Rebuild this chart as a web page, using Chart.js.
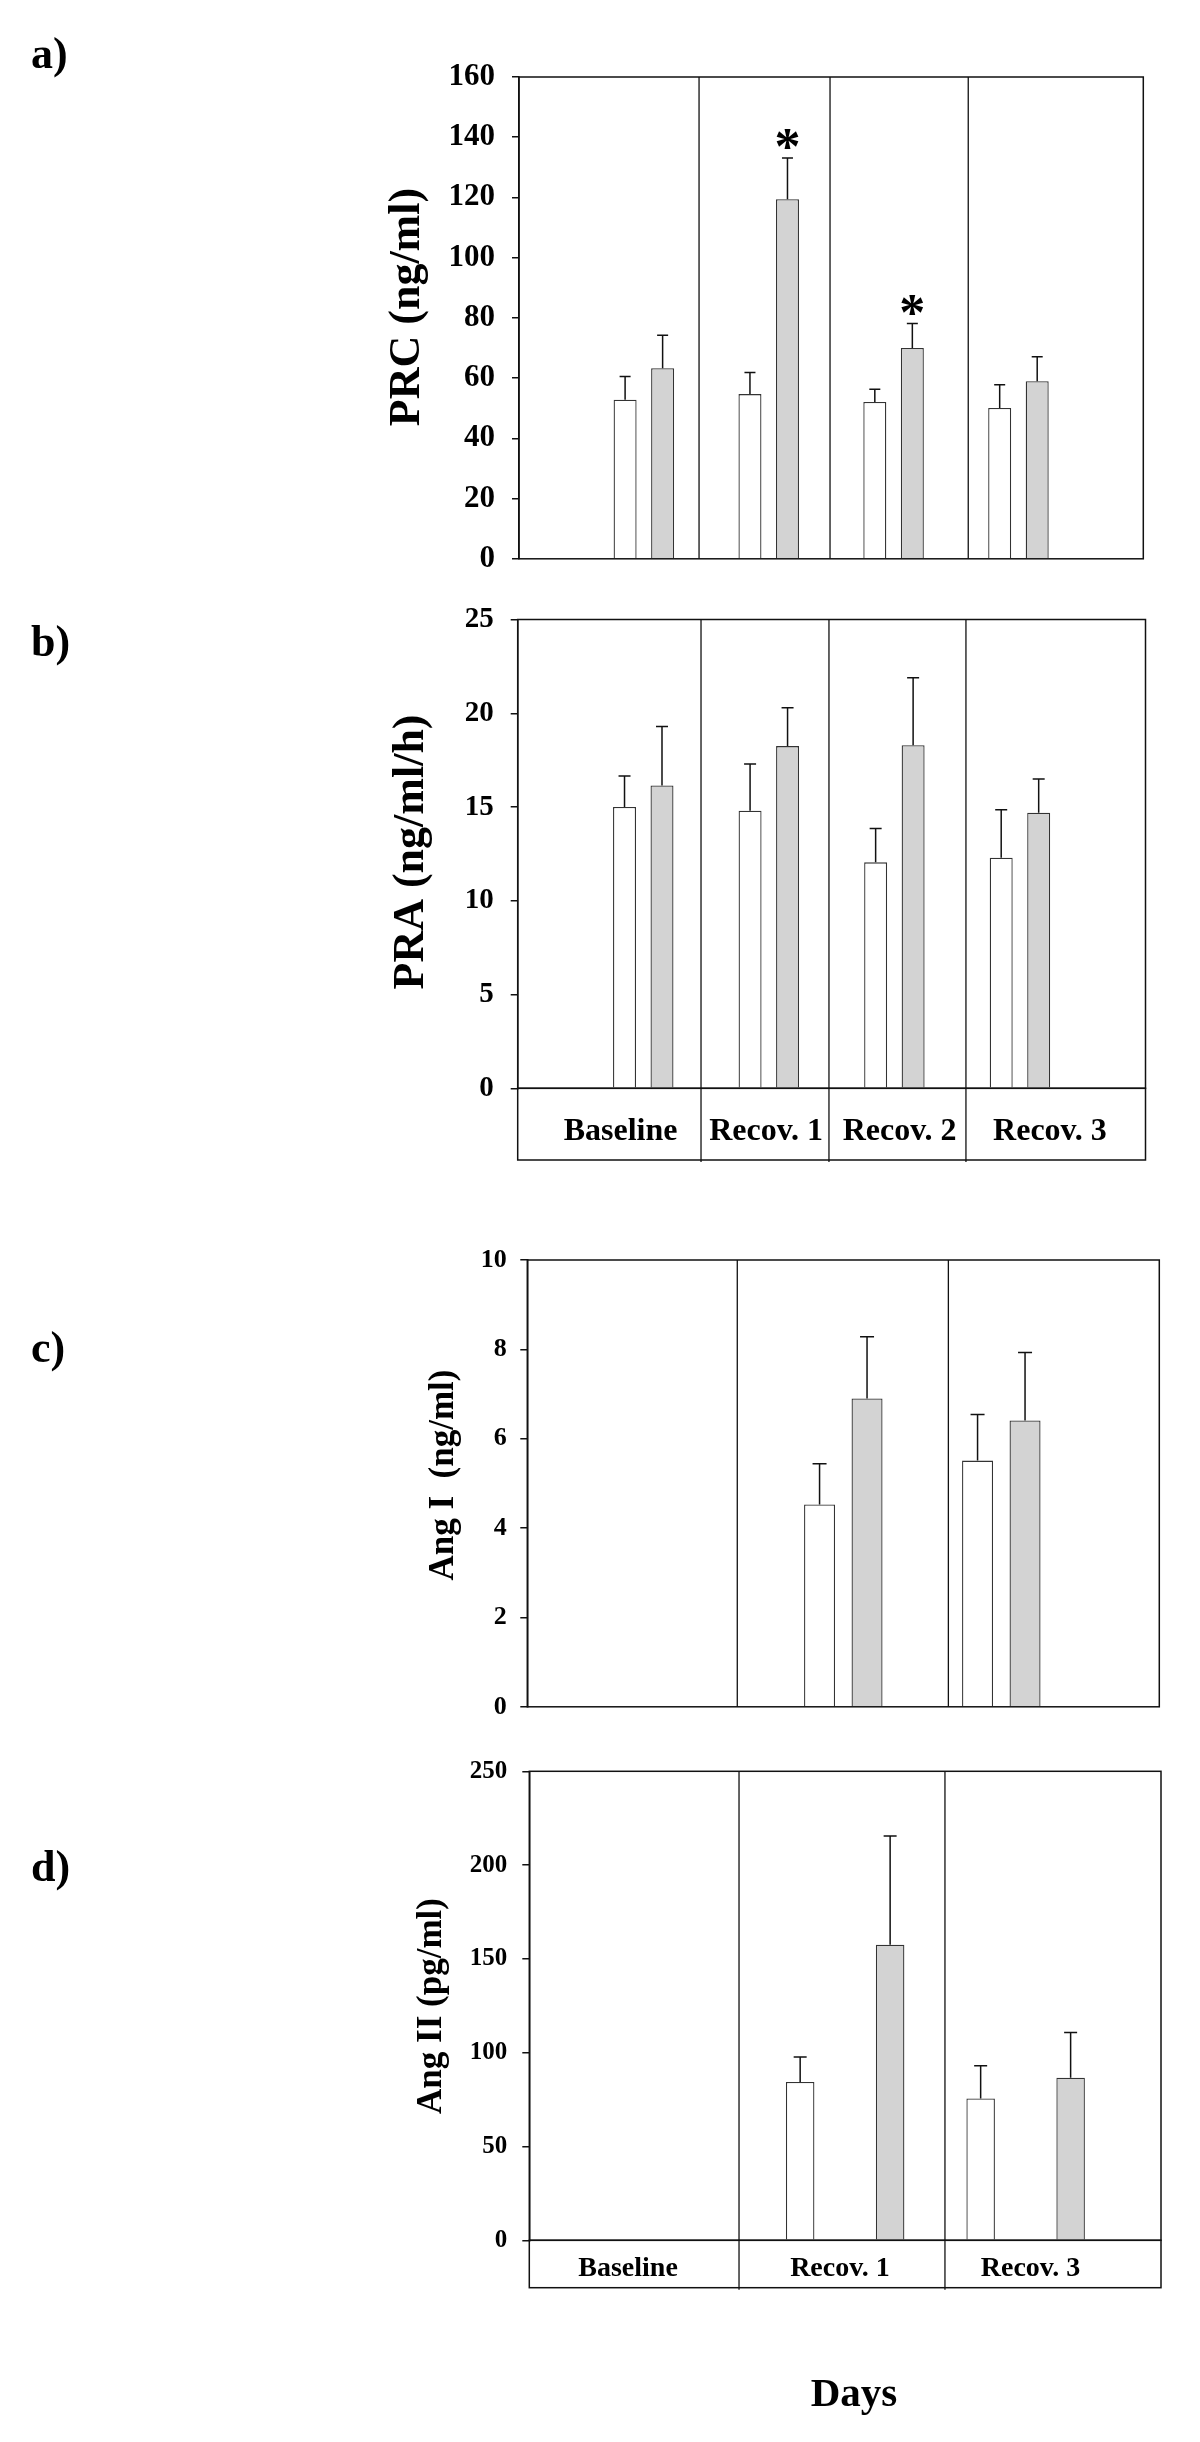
<!DOCTYPE html>
<html>
<head>
<meta charset="utf-8">
<script src="https://cdn.jsdelivr.net/npm/chart.js@4.4.1/dist/chart.umd.min.js"></script>
<style>
html,body{margin:0;padding:0;background:#fff;}
#wrap{position:relative;width:1200px;height:2442px;overflow:hidden;background:#fff;}
#wrap canvas{position:absolute;left:0;top:0;}
.lbl{position:absolute;font-family:"Liberation Serif","Times New Roman",serif;font-weight:bold;color:#000;line-height:1;white-space:nowrap;}
</style>
</head>
<body>
<div id="wrap">
  <canvas id="chartA" width="1200" height="2442"></canvas>
  <canvas id="chartB" width="1200" height="2442"></canvas>
  <canvas id="chartC" width="1200" height="2442"></canvas>
  <canvas id="chartD" width="1200" height="2442"></canvas>
  <div class="lbl" style="left:31px;top:32px;font-size:44px">a)</div>
  <div class="lbl" style="left:31px;top:620px;font-size:44px">b)</div>
  <div class="lbl" style="left:31px;top:1326px;font-size:44px">c)</div>
  <div class="lbl" style="left:31px;top:1845px;font-size:44px">d)</div>
  <div class="lbl" style="left:854px;top:2372px;font-size:41px;transform:translateX(-50%)">Days</div>
</div>
<script>
// ---------------- DATA ----------------
// a) Plasma renin concentration
const prcCategories = ['Baseline', 'Recov. 1', 'Recov. 2', 'Recov. 3'];
const prcOpen      = [52.8, 54.7, 52.1, 50.1];
const prcOpenSem   = [7.7, 7.2, 4.2, 7.7];
const prcGrey      = [63.3, 119.4, 70.0, 59.0];
const prcGreySem   = [10.9, 13.7, 8.1, 8.1];
const prcGreyStar  = [false, true, true, false];
const prcTicks     = [0, 20, 40, 60, 80, 100, 120, 140, 160];

// b) Plasma renin activity
const praCategories = ['Baseline', 'Recov. 1', 'Recov. 2', 'Recov. 3'];
const praOpen      = [15.0, 14.8, 12.05, 12.3];
const praOpenSem   = [1.65, 2.5, 1.8, 2.55];
const praGrey      = [16.15, 18.25, 18.3, 14.7];
const praGreySem   = [3.15, 2.05, 3.6, 1.8];
const praTicks     = [0, 5, 10, 15, 20, 25];

// c) Angiotensin I
const angICategories = ['Baseline', 'Recov. 1', 'Recov. 3'];
const angIOpen     = [null, 4.53, 5.51];
const angIOpenSem  = [null, 0.91, 1.03];
const angIGrey     = [null, 6.90, 6.41];
const angIGreySem  = [null, 1.38, 1.52];
const angITicks    = [0, 2, 4, 6, 8, 10];

// d) Angiotensin II
const angIICategories = ['Baseline', 'Recov. 1', 'Recov. 3'];
const angIIOpen    = [null, 84.4, 75.6];
const angIIOpenSem = [null, 13.3, 17.4];
const angIIGrey    = [null, 157.6, 86.7];
const angIIGreySem = [null, 57.9, 24.1];
const angIITicks   = [0, 50, 100, 150, 200, 250];

// ---------------- RENDERING ----------------
const FAMILY = "'Liberation Serif','Times New Roman',serif";
Chart.defaults.font.family = FAMILY;
Chart.defaults.font.weight = 'bold';
Chart.defaults.color = '#000';

function decorPlugin(p) {
  return {
    id: 'decor' + p.id,
    afterDatasetsDraw(chart) {
      const ctx = chart.ctx, ys = chart.scales.y;
      ctx.save();
      ctx.strokeStyle = '#111';
      ctx.lineWidth = 1.5;
      chart.data.datasets.forEach((ds, di) => {
        const meta = chart.getDatasetMeta(di);
        meta.data.forEach((bar, j) => {
          const v = ds.data[j].y, s = ds.sem[j];
          if (v == null || s == null) return;
          const yTop = ys.getPixelForValue(v + s);
          ctx.beginPath();
          ctx.moveTo(bar.x, bar.y);
          ctx.lineTo(bar.x, yTop);
          ctx.moveTo(bar.x - p.cap / 2, yTop);
          ctx.lineTo(bar.x + p.cap / 2, yTop);
          ctx.stroke();
          if (ds.star && ds.star[j]) {
            ctx.fillStyle = '#000';
            ctx.font = 'bold 52px ' + FAMILY;
            ctx.textAlign = 'center';
            ctx.textBaseline = 'alphabetic';
            ctx.fillText('*', bar.x, yTop + 6);
          }
        });
      });
      ctx.restore();
    },
    afterDraw(chart) {
      const ctx = chart.ctx, a = chart.chartArea, xs = chart.scales.x;
      ctx.save();
      ctx.strokeStyle = '#111';
      ctx.lineWidth = 1.5;
      ctx.strokeRect(a.left, a.top, a.right - a.left, a.bottom - a.top);
      const lowest = a.bottom + (p.boxHeight || 0);
      ctx.lineWidth = 1.3;
      p.dividers.forEach(d => {
        const x = xs.getPixelForValue(d);
        ctx.beginPath();
        ctx.moveTo(x, a.top);
        ctx.lineTo(x, lowest + (p.boxHeight ? 2 : 0));
        ctx.stroke();
      });
      if (p.boxHeight) {
        ctx.lineWidth = 1.5;
        ctx.strokeRect(a.left, a.bottom, a.right - a.left, p.boxHeight);
        ctx.fillStyle = '#000';
        ctx.font = 'bold ' + p.boxFont + 'px ' + FAMILY;
        ctx.textAlign = 'center';
        ctx.textBaseline = 'alphabetic';
        p.categories.forEach((c, i) => {
          ctx.fillText(c, xs.getPixelForValue(p.labelPos[i]), a.bottom + p.labelBaseline);
        });
      }
      // rotated y-axis title
      ctx.fillStyle = '#000';
      ctx.font = 'bold ' + p.titleFont + 'px ' + FAMILY;
      ctx.textAlign = 'center';
      ctx.textBaseline = 'middle';
      ctx.translate(p.titleX, p.titleY);
      ctx.rotate(-Math.PI / 2);
      ctx.fillText(p.title, 0, 0);
      ctx.restore();
    }
  };
}

function makePanel(p) {
  const pts = arr => arr.map((v, i) => ({ x: i, y: v }));
  const common = { borderColor: '#333', borderWidth: 1.3, borderSkipped: 'bottom',
                   categoryPercentage: p.catPct, barPercentage: p.barPct };
  return new Chart(document.getElementById(p.id), {
    type: 'bar',
    data: {
      datasets: [
        Object.assign({ label: 'open', data: pts(p.open), sem: p.openSem,
                        backgroundColor: '#ffffff' }, common),
        Object.assign({ label: 'grey', data: pts(p.grey), sem: p.greySem, star: p.star,
                        backgroundColor: '#d3d3d3' }, common)
      ]
    },
    options: {
      responsive: false,
      animation: false,
      devicePixelRatio: 1,
      events: [],
      layout: { padding: { left: 0, top: p.top, right: 1200 - p.right, bottom: 2442 - p.bottom } },
      plugins: { legend: { display: false }, tooltip: { enabled: false } },
      scales: {
        x: {
          type: 'linear', min: p.xMin, max: p.xMax, offset: false, display: false,
          afterBuildTicks: s => { s.ticks = p.categories.map((_, i) => ({ value: i })); }
        },
        y: {
          min: p.ticks[0], max: p.ticks[p.ticks.length - 1],
          afterBuildTicks: s => { s.ticks = p.ticks.map(v => ({ value: v })); },
          afterFit: s => { s.width = p.left; },
          ticks: { font: { size: p.tickFont, weight: 'bold' }, padding: p.tickPad, color: '#000' },
          grid: { drawOnChartArea: false, drawTicks: true, tickLength: 7, color: '#111', lineWidth: 1.5 },
          border: { display: true, color: '#111', width: 1.5 },
          title: { display: false }
        }
      }
    },
    plugins: [decorPlugin(p)]
  });
}

makePanel({
  id: 'chartA', categories: prcCategories, open: prcOpen, openSem: prcOpenSem,
  grey: prcGrey, greySem: prcGreySem, star: prcGreyStar, ticks: prcTicks,
  left: 519, right: 1143.3, top: 77, bottom: 558.8, xMin: -1, xMax: 4,
  dividers: [0.442, 1.491, 2.598], catPct: 0.601, barPct: 0.613, cap: 11,
  title: 'PRC (ng/ml)', titleFont: 44, titleX: 408, titleY: 307, tickFont: 31, tickPad: 17
});

makePanel({
  id: 'chartB', categories: praCategories, open: praOpen, openSem: praOpenSem,
  grey: praGrey, greySem: praGreySem, star: null, ticks: praTicks,
  left: 517.7, right: 1145.5, top: 619.5, bottom: 1088.3, xMin: -1, xMax: 4,
  dividers: [0.460, 1.479, 2.570], catPct: 0.597, barPct: 0.613, cap: 12,
  boxHeight: 71.7, labelPos: [-0.181, 0.978, 2.041, 3.239], labelBaseline: 51.7, boxFont: 32,
  title: 'PRA (ng/ml/h)', titleFont: 44, titleX: 412, titleY: 852, tickFont: 29, tickPad: 17
});

makePanel({
  id: 'chartC', categories: angICategories, open: angIOpen, openSem: angIOpenSem,
  grey: angIGrey, greySem: angIGreySem, star: null, ticks: angITicks,
  left: 527.3, right: 1159.3, top: 1260, bottom: 1706.8, xMin: -1, xMax: 3,
  dividers: [0.329, 1.665], catPct: 0.601, barPct: 0.653, cap: 14,
  title: 'Ang I  (ng/ml)', titleFont: 35, titleX: 444, titleY: 1475, tickFont: 26, tickPad: 13.5
});

makePanel({
  id: 'chartD', categories: angIICategories, open: angIIOpen, openSem: angIIOpenSem,
  grey: angIIGrey, greySem: angIIGreySem, star: null, ticks: angIITicks,
  left: 529.3, right: 1161, top: 1771.3, bottom: 2240.3, xMin: -0.75, xMax: 2.75,
  dividers: [0.412, 1.553], catPct: 0.997, barPct: 0.317, cap: 13,
  boxHeight: 47.4, labelPos: [-0.203, 0.971, 2.027], labelBaseline: 35.4, boxFont: 28,
  title: 'Ang II (pg/ml)', titleFont: 35, titleX: 432, titleY: 2006, tickFont: 25, tickPad: 15
});
</script>
</body>
</html>
